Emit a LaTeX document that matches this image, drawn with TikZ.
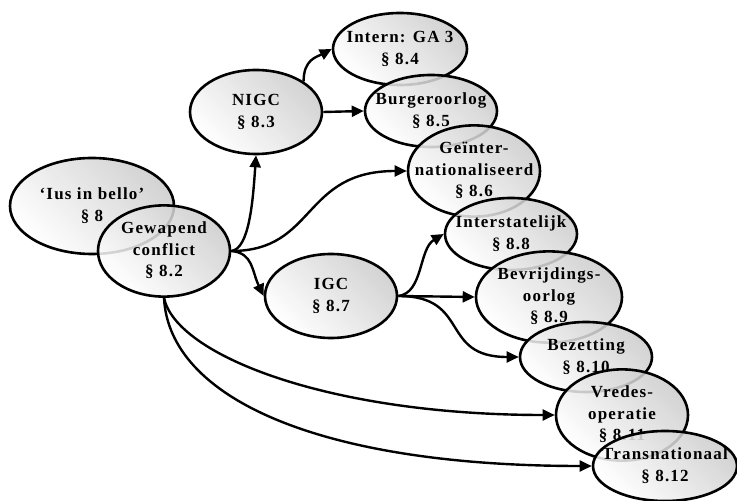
\documentclass[tikz,border=0pt]{standalone}
\usepackage{fontspec}
\setmainfont{Liberation Serif}[LetterSpace=7]
\usetikzlibrary{shapes.geometric,arrows.meta}

\newcommand{\bubbletext}[1]{\makebox[0pt]{\begin{tabular}{@{}c@{}}#1\end{tabular}}}

\tikzset{
  bubble/.style n args={2}{
    ellipse, draw=black, line width=2.6bp, inner sep=0pt,
    minimum width=#1, minimum height=#2,
    top color=black!20, bottom color=white, shading angle=-45,
    fill opacity=0.86, text opacity=1,
    font=\fontsize{17bp}{21.5bp}\selectfont\bfseries
  },
  link/.style={line width=2.4bp, -{Triangle[length=12bp,width=11bp]}}
}

\begin{document}
\begin{tikzpicture}[x=1bp,y=-1bp]
  \useasboundingbox (0,0) rectangle (737,501);

  % nodes, drawn back to front
  \node[bubble={164bp}{96bp}] (ius)    at (92,206)  {\bubbletext{`Ius in bello'\\\S\ 8}};
  \node[bubble={132bp}{84bp}] (gew)    at (164,251) {\bubbletext{Gewapend\\conflict\\\S\ 8.2}};
  \node[bubble={132bp}{84bp}] (nigc)   at (256,112) {\bubbletext{NIGC\\\S\ 8.3}};
  \node[bubble={134bp}{72bp}] (intern) at (400,49)  {\bubbletext{Intern: GA 3\\\S\ 8.4}};
  \node[bubble={132bp}{72bp}] (burger) at (431,111) {\bubbletext{Burgeroorlog\\\S\ 8.5}};
  \node[bubble={132bp}{74bp}] (geint)  at (474,171) {\bubbletext{Geïnter-\\nationaliseerd\\\S\ 8.6}};
  \node[bubble={132bp}{84bp}] (igc)    at (331,296) {\bubbletext{IGC\\\S\ 8.7}};
  \node[bubble={132bp}{72bp}] (inter)  at (511,234) {\bubbletext{Interstatelijk\\\S\ 8.8}};
  \node[bubble={146bp}{80bp}] (bevr)   at (549,297) {\bubbletext{Bevrijdings-\\oorlog\\\S\ 8.9}};
  \node[bubble={132bp}{70bp}] (bez)    at (586,357) {\bubbletext{Bezetting\\\S\ 8.10}};
  \node[bubble={132bp}{76bp}] (vredes) at (622,415) {\bubbletext{Vredes-\\operatie\\\S\ 8.11}};
  \node[bubble={144bp}{70bp}] (trans)  at (665,466) {\bubbletext{Transnationaal\\\S\ 8.12}};

  % connectors
  \draw[link] (gew.east) .. controls +(18,-2) and +(-3,45) .. (nigc.south);
  \draw[link] (gew.east) .. controls +(85,0) and +(-105,0) .. (geint.west);
  \draw[link] (gew.east) .. controls +(22,2) and +(-12,-25) .. (igc.west);
  \draw[link] (gew.south) .. controls +(12,57) and +(-227,0) .. (vredes.west);
  \draw[link] (gew.south) .. controls +(5,100) and +(-273,0) .. (trans.west);

  \draw[link] (nigc.north east) .. controls +(0,-22) and +(-15,8) .. (intern.west);
  \draw[link] (nigc.east) -- (burger.west);

  \draw[link] (igc.east) .. controls +(25,-3) and +(-25,15) .. (inter.west);
  \draw[link] (igc.east) -- (bevr.west);
  \draw[link] (igc.east) .. controls +(73,0) and +(-80,0) .. (bez.west);
\end{tikzpicture}
\end{document}
